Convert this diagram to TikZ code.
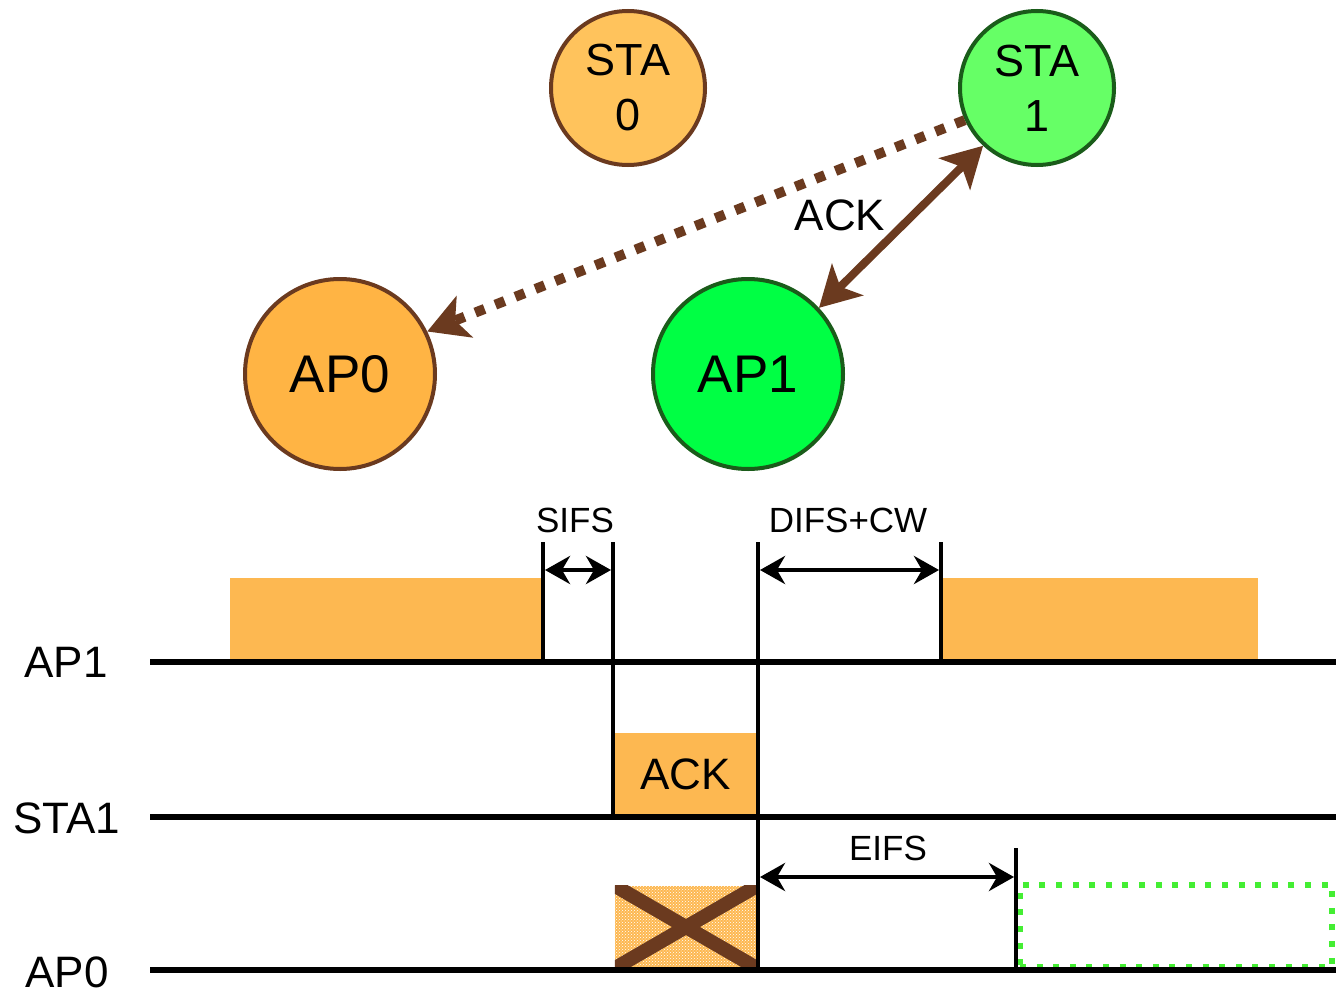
\documentclass[tikz,border=0pt]{standalone}
\usepackage{fontspec}
\setmainfont{Liberation Sans}
\usetikzlibrary{arrows.meta,patterns}
\definecolor{brownc}{HTML}{6B3A1F}
\definecolor{orlight}{HTML}{FFC35C}
\definecolor{orap}{HTML}{FFB444}
\definecolor{orbar}{HTML}{FDB851}
\definecolor{grsta}{HTML}{66FF66}
\definecolor{grap}{HTML}{00FF44}
\definecolor{grdark}{HTML}{1A5C1A}
\definecolor{grdot}{HTML}{44EE33}
\begin{document}
\begin{tikzpicture}[x=1pt,y=-1pt,
  stanode/.style={circle,draw=#1,line width=4pt,minimum size=154pt,inner sep=0pt,align=center,
     font=\fontsize{45}{55}\selectfont},
  apnode/.style={circle,draw=#1,line width=4pt,minimum size=190pt,inner sep=0pt,
     font=\fontsize{53}{60}\selectfont},
  lbl/.style={font=\fontsize{44}{50}\selectfont,inner sep=0pt},
  slbl/.style={font=\fontsize{35}{40}\selectfont,inner sep=0pt},
  tline/.style={line width=6pt},
  vline/.style={line width=4pt},
  dim/.style={line width=4.5pt,{Stealth[length=25pt,width=28pt,inset=8pt]}-{Stealth[length=25pt,width=28pt,inset=8pt]}},
  bar/.style={fill=orbar,draw=none},
  brarrow/.style={draw=brownc,line width=10pt}
]
\useasboundingbox (0,0) rectangle (1336,993);

% upper network
\node[stanode=brownc,fill=orlight] (sta0) at (628,88) {STA\\0};
\node[stanode=grdark,fill=grsta] (sta1) at (1037,88) {STA\\1};
\node[apnode=brownc,fill=orap] (ap0) at (340,374) {AP0};
\node[apnode=grdark,fill=grap] (ap1) at (748,374) {AP1};

\draw[brarrow,dash pattern=on 10pt off 11.5pt,-{Stealth[length=40pt,width=44pt,inset=10pt]}] (sta1.204) -- (ap0.26);
\draw[draw=brownc,line width=8pt,{Stealth[length=40pt,width=44pt,inset=10pt]}-{Stealth[length=40pt,width=44pt,inset=10pt]}] (sta1.227) -- (ap1.43);
\node[lbl] (acklbl) at (840,215) {ACK};

% timeline coordinates
\coordinate (ap1L) at (150,662);
\coordinate (ap1R) at (1336,662);
\coordinate (sta1L) at (150,817);
\coordinate (sta1R) at (1336,817);
\coordinate (ap0L) at (150,970);
\coordinate (ap0R) at (1336,970);

% bars
\node[bar,minimum width=313pt,minimum height=82pt,inner sep=0pt] (bar1) at (386.5,619) {};
\node[bar,minimum width=316pt,minimum height=82pt,inner sep=0pt] (bar2) at (1100,619) {};
\node[bar,minimum width=141pt,minimum height=82pt,inner sep=0pt,lbl] (ackbar) at (685.5,774) {ACK};
\fill[orbar] (615,886) rectangle (757,968);
\fill[pattern=crosshatch dots,pattern color=white] (615,886) rectangle (757,968);
\node[minimum width=142pt,minimum height=82pt,inner sep=0pt] (lost) at (686,927) {};
\begin{scope}
\clip (lost.north west) rectangle (lost.south east);
\draw[brownc,line width=14pt] (lost.north west) -- (lost.south east);
\draw[brownc,line width=14pt] (lost.south west) -- (lost.north east);
\end{scope}
\node[draw=grdot,line width=6pt,dash pattern=on 6pt off 10.6pt,minimum width=312pt,minimum height=82pt,inner sep=0pt] (future) at (1176,926) {};

% time lines
\draw[tline] (ap1L) -- (ap1R);
\draw[tline] (sta1L) -- (sta1R);
\draw[tline] (ap0L) -- (ap0R);

% vertical markers
\coordinate (v1t) at (543,542); \coordinate (v1b) at (543,662);
\coordinate (v2t) at (613,542); \coordinate (v2b) at (613,817);
\coordinate (v3t) at (758,542); \coordinate (v3b) at (758,970);
\coordinate (v4t) at (941,542); \coordinate (v4b) at (941,662);
\coordinate (v5t) at (1016,848); \coordinate (v5b) at (1016,970);
\draw[vline] (v1t) -- (v1b);
\draw[vline] (v2t) -- (v2b);
\draw[vline] (v3t) -- (v3b);
\draw[vline] (v4t) -- (v4b);
\draw[vline] (v5t) -- (v5b);

% dimension arrows
\coordinate (s1) at (545,570); \coordinate (s2) at (611,570);
\coordinate (d1) at (760,570); \coordinate (d2) at (939,570);
\coordinate (e1) at (760,877); \coordinate (e2) at (1014,877);
\draw[dim] (s1) -- (s2);
\draw[dim] (d1) -- (d2);
\draw[dim] (e1) -- (e2);
\node[slbl] (sifs) at (575,520) {SIFS};
\node[slbl] (difs) at (848,520) {DIFS+CW};
\node[slbl] (eifs) at (888,848) {EIFS};

% row labels
\node[lbl] (lap1) at (66,662) {AP1};
\node[lbl] (lsta1) at (67,818) {STA1};
\node[lbl] (lap0) at (67,972) {AP0};
\end{tikzpicture}
\end{document}
